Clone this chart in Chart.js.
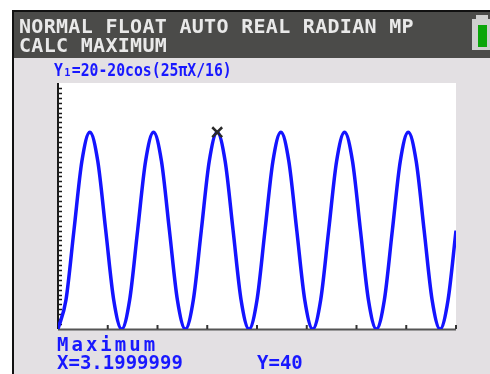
<!DOCTYPE html>
<html>
<head>
<meta charset="utf-8">
<script src="https://cdn.jsdelivr.net/npm/chart.js@4.4.0/dist/chart.umd.min.js"></script>
<style>
    body {
        margin: 0;
        width: 490px;
        height: 374px;
        overflow: hidden;
        background: #fff;
        position: relative;
        font-family: "DejaVu Sans Mono", monospace;
        font-weight: bold;
    }
    #screen {
        position: absolute;
        left: 12px;
        top: 10px;
        width: 478px;
        height: 364px;
        box-sizing: border-box;
        background: #e3e0e3;
        border-left: 2px solid #111;
        border-top: 2px solid #111;
    }
    #header {
        position: absolute;
        left: 14px;
        top: 12px;
        width: 476px;
        height: 46px;
        background: #4b4b49;
    }
    .txt {
        position: absolute;
        white-space: pre;
    }
    .head {
        font-size: 20px;
        line-height: 20px;
        color: #e9e9e9;
        left: 19px;
        letter-spacing: 0.3px;
    }
    .blue {
        color: #1818ff;
        font-size: 19px;
        line-height: 19px;
    }
    #eq {
        left: 54px;
        top: 61px;
        font-size: 18px;
        line-height: 18px;
        transform: scaleX(0.82);
        transform-origin: left top;
    }
    #battery {
        position: absolute;
        left: 472px;
        top: 19px;
        width: 20px;
        height: 31px;
        background: #cfcfcf;
    }
    #battery-nub {
        position: absolute;
        left: 476px;
        top: 15px;
        width: 12px;
        height: 4px;
        background: #cfcfcf;
    }
    #battery-fill {
        position: absolute;
        left: 478px;
        top: 25px;
        width: 9px;
        height: 22px;
        background: #0aa60a;
    }
    canvas {
        position: absolute;
        left: 0;
        top: 0;
    }
</style>
</head>
<body>
<div id="screen"></div>
<div id="header"></div>
<div id="battery-nub"></div>
<div id="battery"></div>
<div id="battery-fill"></div>
<canvas id="myChart" width="490" height="374"></canvas>
<div class="txt head" style="top:16px">NORMAL FLOAT AUTO REAL RADIAN MP</div>
<div class="txt head" style="top:35px">CALC MAXIMUM</div>
<div class="txt blue" id="eq">Y₁=20-20cos(25πX/16)</div>
<div class="txt blue" style="left:57px; top:335px; letter-spacing:3px">Maximum</div>
<div class="txt blue" style="left:57px; top:353px">X=3.1999999</div>
<div class="txt blue" style="left:257px; top:353px">Y=40</div>
<script>
// window settings
const xMin = 0;
const xMax = 8;
const yMin = 0;
const yMax = 50;
const yScl = 1;
const xTickValues = [1, 2, 3, 4, 5, 6, 7, 8];

// curve samples
const xValues = [0, 0.16, 0.32, 0.48, 0.64, 0.8, 0.96, 1.12, 1.28, 1.44, 1.6, 1.76, 1.92, 2.08, 2.24, 2.4, 2.56,
    2.72, 2.88, 3.04, 3.2, 3.36, 3.52, 3.68, 3.84, 4, 4.16, 4.32, 4.48, 4.64, 4.8, 4.96, 5.12, 5.28, 5.44, 5.6,
    5.76, 5.92, 6.08, 6.24, 6.4, 6.56, 6.72, 6.88, 7.04, 7.2, 7.36, 7.52, 7.68, 7.84, 8];
const yValues = [0, 5.9, 20, 34.1, 40, 34.1, 20, 5.9,
    0, 5.9, 20, 34.1, 40, 34.1, 20, 5.9,
    0, 5.9, 20, 34.1, 40, 34.1, 20, 5.9,
    0, 5.9, 20, 34.1, 40, 34.1, 20, 5.9,
    0, 5.9, 20, 34.1, 40, 34.1, 20, 5.9,
    0, 5.9, 20, 34.1, 40, 34.1, 20, 5.9,
    0, 5.9, 20];

// the maximum found by CALC
const maxX = 3.2;
const maxY = 40;

// white plot window plus TI style axes with inside ticks
const calcAxes = {
    id: 'calcAxes',
    beforeDatasetsDraw(chart) {
        const { ctx, chartArea, scales } = chart;
        const x = scales.x;
        const y = scales.y;
        ctx.save();
        ctx.fillStyle = '#ffffff';
        ctx.fillRect(chartArea.left, chartArea.top, chartArea.right - chartArea.left, chartArea.bottom - chartArea.top);

        const x0 = x.getPixelForValue(xMin);
        const y0 = y.getPixelForValue(yMin);

        // y axis and its ticks
        ctx.strokeStyle = '#1a1a1a';
        ctx.lineWidth = 2;
        ctx.beginPath();
        ctx.moveTo(x0, chartArea.top);
        ctx.lineTo(x0, y0);
        ctx.stroke();
        ctx.lineWidth = 1.5;
        for (let v = yMin + yScl; v < yMax; v += yScl) {
            const py = Math.round(y.getPixelForValue(v)) + 0.5;
            ctx.beginPath();
            ctx.moveTo(x0, py);
            ctx.lineTo(x0 + 4, py);
            ctx.stroke();
        }

        // x axis and its ticks
        ctx.strokeStyle = '#555555';
        ctx.lineWidth = 2;
        ctx.beginPath();
        ctx.moveTo(x0, y0 + 0.5);
        ctx.lineTo(chartArea.right, y0 + 0.5);
        ctx.stroke();
        ctx.strokeStyle = '#333333';
        xTickValues.forEach(v => {
            const px = x.getPixelForValue(v);
            ctx.beginPath();
            ctx.moveTo(px, y0 - 4);
            ctx.lineTo(px, y0);
            ctx.stroke();
        });
        ctx.restore();
    }
};

function buildChart() {
    const ctx = document.getElementById('myChart');

    new Chart(ctx, {
        type: 'line',
        data: {
            datasets: [{
                data: xValues.map((v, i) => ({ x: v, y: yValues[i] })),
                borderColor: '#1414ff',
                borderWidth: 3.5,
                pointRadius: 0,
                cubicInterpolationMode: 'monotone',
                order: 2
            }, {
                type: 'scatter',
                data: [{ x: maxX, y: maxY }],
                pointStyle: 'crossRot',
                pointRadius: 7,
                borderColor: '#2a2a2a',
                borderWidth: 2.5,
                order: 1
            }]
        },
        options: {
            responsive: false,
            animation: false,
            events: [],
            layout: {
                padding: { left: 58, right: 34, top: 83, bottom: 45 }
            },
            plugins: {
                legend: { display: false },
                tooltip: { enabled: false }
            },
            scales: {
                x: { type: 'linear', min: xMin, max: xMax, display: false },
                y: { type: 'linear', min: yMin, max: yMax, display: false }
            }
        },
        plugins: [calcAxes]
    });
}

buildChart();
</script>
</body>
</html>
